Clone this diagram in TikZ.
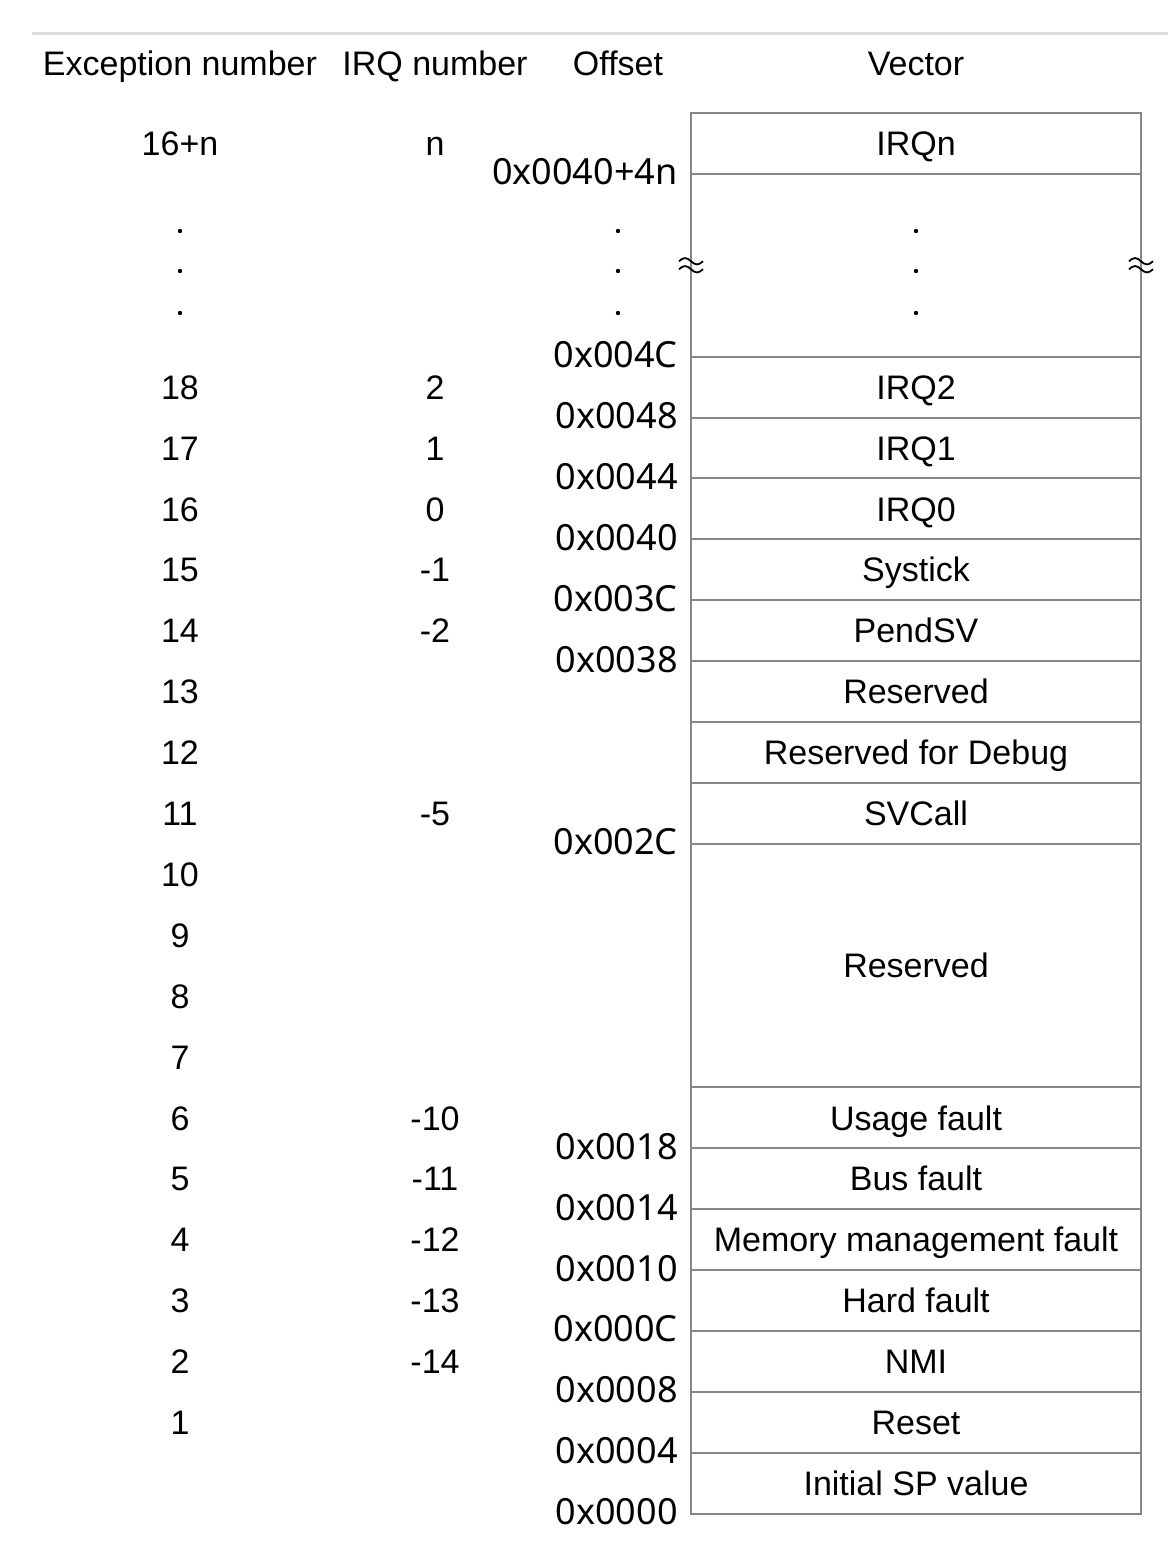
\documentclass[tikz,border=0pt]{standalone}
\usepackage{fontspec}
\setmainfont{Liberation Sans}
\newfontfamily\hexfont{Noto Sans}
\usepackage{tikz}
\usetikzlibrary{positioning}
\definecolor{rulegray}{RGB}{222,222,222}
\definecolor{boxgray}{RGB}{135,135,135}

\begin{document}
\begin{tikzpicture}[x=0.5pt,y=-0.5pt,
  lbl/.style={font=\fontsize{17}{20}\selectfont,inner sep=0pt,text height=12.2pt,text depth=0pt},
  cell/.style={lbl,draw=boxgray,line width=1pt,minimum width=225pt,minimum height=30.45pt,outer sep=0pt},
  hex/.style={font=\hexfont\fontsize{18}{20}\selectfont,inner sep=0pt,text height=12.9pt,text depth=0pt,anchor=east}]
\useasboundingbox (0,0) rectangle (1168,1546);

\draw[rulegray,line width=1.5pt] (32,34) -- (1168,34);

% headings
\node[lbl] (hExc) at (180,63) {Exception number};
\node[lbl] (hIrq) at (435,63) {IRQ number};
\node[lbl] (hOff) at (618,63) {Offset};
\node[lbl] (hVec) at (916,63) {Vector};

% vector table
\node[cell] (vIRQn) at (916,143.45) {IRQn};
\node[cell,minimum height=91.35pt,below=0pt of vIRQn] (vgap) {};
\node[cell,below=0pt of vgap] (vIRQtwo) {IRQ2};
\node[cell,below=0pt of vIRQtwo] (vIRQone) {IRQ1};
\node[cell,below=0pt of vIRQone] (vIRQzero) {IRQ0};
\node[cell,below=0pt of vIRQzero] (vSystick) {Systick};
\node[cell,below=0pt of vSystick] (vPendSV) {PendSV};
\node[cell,below=0pt of vPendSV] (vRes) {Reserved};
\node[cell,below=0pt of vRes] (vDebug) {Reserved for Debug};
\node[cell,below=0pt of vDebug] (vSVCall) {SVCall};
\node[cell,minimum height=121.8pt,below=0pt of vSVCall] (vResBig) {Reserved};
\node[cell,below=0pt of vResBig] (vUsage) {Usage fault};
\node[cell,below=0pt of vUsage] (vBus) {Bus fault};
\node[cell,below=0pt of vBus] (vMem) {Memory management fault};
\node[cell,below=0pt of vMem] (vHard) {Hard fault};
\node[cell,below=0pt of vHard] (vNMI) {NMI};
\node[cell,below=0pt of vNMI] (vReset) {Reset};
\node[cell,below=0pt of vReset] (vSP) {Initial SP value};

% break marks
\foreach \a in {west,east}
  \foreach \d in {-2pt,2pt}
    \draw[line width=0.9pt] ([xshift=-6pt,yshift=\d]vgap.\a) sin ++(3pt,1.6pt) cos ++(3pt,-1.6pt) sin ++(3pt,-1.6pt) cos ++(3pt,1.6pt);

% offsets
\node[hex] (o4n) at ([xshift=-6.5pt,yshift=1pt]vIRQn.south west) {0x0040+4n};
\node[hex] (o4C) at ([xshift=-6.5pt,yshift=1pt]vgap.south west) {0x004C};
\node[hex] (o48) at ([xshift=-6.5pt,yshift=1pt]vIRQtwo.south west) {0x0048};
\node[hex] (o44) at ([xshift=-6.5pt,yshift=1pt]vIRQone.south west) {0x0044};
\node[hex] (o40) at ([xshift=-6.5pt,yshift=1pt]vIRQzero.south west) {0x0040};
\node[hex] (o3C) at ([xshift=-6.5pt,yshift=1pt]vSystick.south west) {0x003C};
\node[hex] (o38) at ([xshift=-6.5pt,yshift=1pt]vPendSV.south west) {0x0038};
\node[hex] (o2C) at ([xshift=-6.5pt,yshift=1pt]vSVCall.south west) {0x002C};
\node[hex] (o18) at ([xshift=-6.5pt,yshift=1pt]vUsage.south west) {0x0018};
\node[hex] (o14) at ([xshift=-6.5pt,yshift=1pt]vBus.south west) {0x0014};
\node[hex] (o10) at ([xshift=-6.5pt,yshift=1pt]vMem.south west) {0x0010};
\node[hex] (o0C) at ([xshift=-6.5pt,yshift=1pt]vHard.south west) {0x000C};
\node[hex] (o08) at ([xshift=-6.5pt,yshift=1pt]vNMI.south west) {0x0008};
\node[hex] (o04) at ([xshift=-6.5pt,yshift=1pt]vReset.south west) {0x0004};
\node[hex] (o00) at ([xshift=-6.5pt,yshift=1pt]vSP.south west) {0x0000};

% exception numbers
\node[lbl] (eN) at (180,143.45) {16+n};
\foreach \e [count=\i from 4] in {18,17,...,1}
  \node[lbl] (e\e) at (180,{143.45+60.9*\i}) {\e};

% IRQ numbers
\node[lbl] (iN) at (435,0 |- eN) {n};
\node[lbl] (iTwo) at (435,0 |- e18) {2};
\node[lbl] (iOne) at (435,0 |- e17) {1};
\node[lbl] (iZero) at (435,0 |- e16) {0};
\node[lbl] (iM1) at (435,0 |- e15) {-1};
\node[lbl] (iM2) at (435,0 |- e14) {-2};
\node[lbl] (iM5) at (435,0 |- e11) {-5};
\node[lbl] (iM10) at (435,0 |- e6) {-10};
\node[lbl] (iM11) at (435,0 |- e5) {-11};
\node[lbl] (iM12) at (435,0 |- e4) {-12};
\node[lbl] (iM13) at (435,0 |- e3) {-13};
\node[lbl] (iM14) at (435,0 |- e2) {-14};

% dots
\foreach \y in {231,271,313}
  \foreach \x in {180,618,916}
    \fill (\x,\y) circle (1.1pt);

\end{tikzpicture}
\end{document}
